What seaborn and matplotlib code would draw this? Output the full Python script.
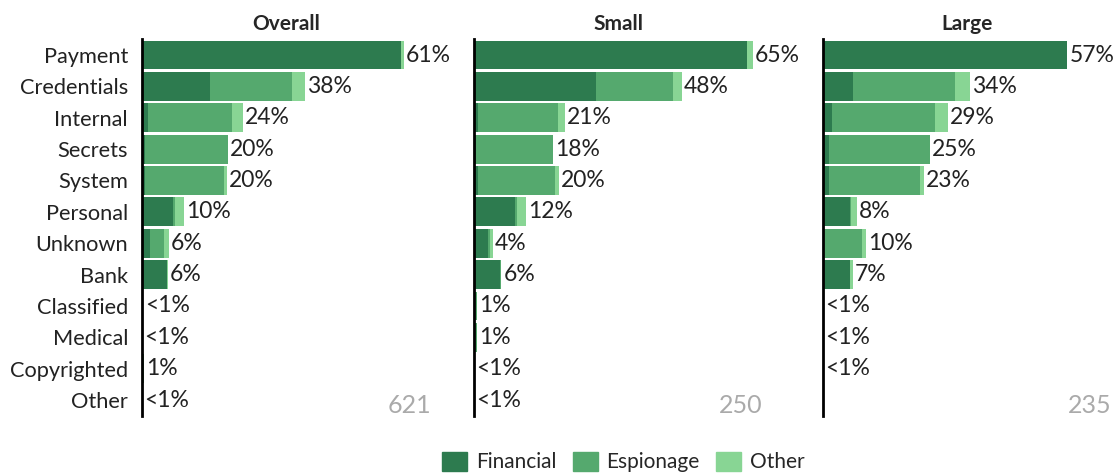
import matplotlib
matplotlib.use("Agg")
import matplotlib.pyplot as plt
import seaborn as sns
import pandas as pd
from matplotlib.patches import Patch

# data (percent of breaches)
categories = ["Payment", "Credentials", "Internal", "Secrets", "System", "Personal",
              "Unknown", "Bank", "Classified", "Medical", "Copyrighted", "Other"]
motives = ["Financial", "Espionage", "Other"]

overall_fin = [60.5, 16.0, 1.3, 0.7, 0.7, 7.3, 1.9, 5.8, 0.0, 0.0, 0.0, 0.0]
overall_esp = [0.0, 19.0, 19.8, 19.3, 18.5, 0.3, 3.2, 0.0, 0.3, 0.1, 0.5, 0.1]
overall_oth = [0.7, 3.0, 2.4, 0.0, 0.6, 2.2, 1.2, 0.3, 0.0, 0.0, 0.0, 0.0]
overall_labels = ["61%", "38%", "24%", "20%", "20%", "10%", "6%", "6%", "<1%", "<1%", "1%", "<1%"]

small_fin = [63.9, 28.4, 1.0, 0.4, 1.0, 9.5, 3.2, 6.0, 0.0, 0.0, 0.0, 0.0]
small_esp = [0.0, 18.0, 18.6, 18.0, 17.9, 0.5, 0.5, 0.4, 0.8, 0.8, 0.0, 0.0]
small_oth = [1.3, 2.1, 1.6, 0.0, 0.9, 2.1, 0.7, 0.0, 0.0, 0.0, 0.0, 0.0]
small_labels = ["65%", "48%", "21%", "18%", "20%", "12%", "4%", "6%", "1%", "1%", "<1%", "<1%"]

large_fin = [57.1, 7.1, 2.0, 1.3, 1.3, 6.4, 0.3, 6.4, 0.0, 0.0, 0.0, 0.0]
large_esp = [0.0, 23.7, 24.1, 23.6, 21.3, 0.1, 8.7, 0.0, 0.1, 0.1, 0.1, 0.0]
large_oth = [0.0, 3.5, 3.0, 0.0, 0.9, 1.4, 1.0, 0.5, 0.0, 0.0, 0.0, 0.0]
large_labels = ["57%", "34%", "29%", "25%", "23%", "8%", "10%", "7%", "<1%", "<1%", "<1%", ""]

panel_titles = ["Overall", "Small", "Large"]
panel_counts = ["621", "250", "235"]

colors = {"Financial": "#2d7b4f", "Espionage": "#55a96e", "Other": "#88d594"}

sns.set_theme(style="white")
plt.rcParams["font.family"] = ["Lato", "DejaVu Sans"]

fig = plt.figure(figsize=(11.17, 4.75), dpi=100)
lefts = [0.1271, 0.4243, 0.7368]
panels = [
    (overall_fin, overall_esp, overall_oth, overall_labels),
    (small_fin, small_esp, small_oth, small_labels),
    (large_fin, large_esp, large_oth, large_labels),
]

for i, (fin, esp, oth, labels) in enumerate(panels):
    ax = fig.add_axes([lefts[i], 0.1248, 0.2587, 0.7924])
    df = pd.DataFrame({"category": categories, "Financial": fin,
                       "Espionage": esp, "Other": oth})
    df["c1"] = df["Financial"]
    df["c2"] = df["c1"] + df["Espionage"]
    df["c3"] = df["c2"] + df["Other"]

    # stacked look: draw the cumulative totals from longest to shortest
    for col, motive in [("c3", "Other"), ("c2", "Espionage"), ("c1", "Financial")]:
        sns.barplot(data=df, x=col, y="category", orient="h", color=colors[motive],
                    saturation=1, width=0.92, linewidth=0, ax=ax)

    for j, (tot, lab) in enumerate(zip(df["c3"], labels)):
        ax.text(tot + 0.5, j, lab, va="center", ha="left", fontsize=16.5, color="#222222")

    ax.text(1.0, 0.026, panel_counts[i], transform=ax.transAxes, ha="right",
            va="center", fontsize=18, color="#aaaaaa")

    ax.set_xlim(0, 67.5)
    ax.set_title(panel_titles[i], fontsize=15, fontweight="bold", pad=7)
    ax.set_xlabel("")
    ax.set_ylabel("")
    ax.set_xticks([])
    sns.despine(ax=ax, top=True, right=True, bottom=True, left=False)
    ax.spines["left"].set_color("black")
    ax.spines["left"].set_linewidth(2)
    ax.tick_params(axis="y", length=0, pad=10, labelsize=15.7, labelcolor="#222222")
    if i > 0:
        ax.set_yticklabels([])

handles = [Patch(color=colors[m], label=m) for m in motives]
fig.legend(handles=handles, loc="center", bbox_to_anchor=(0.558, 0.027), ncol=3,
           frameon=False, fontsize=15, handlelength=1.2, handleheight=1.0,
           handletextpad=0.4, columnspacing=0.8)

fig.savefig("out.png", dpi=100)
